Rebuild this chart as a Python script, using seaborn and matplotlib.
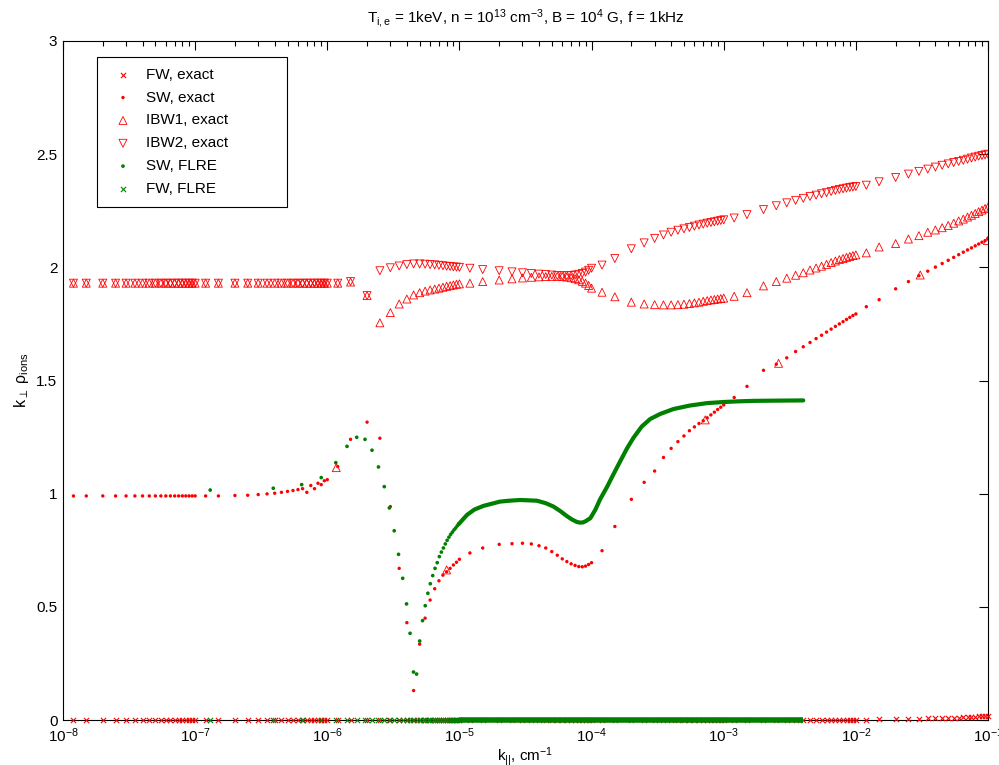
import numpy as np
import matplotlib
matplotlib.use("Agg")
import matplotlib.pyplot as plt
import seaborn as sns
from matplotlib.ticker import LogLocator, FixedLocator, FixedFormatter, NullFormatter, LogFormatterSciNotation

# ---------------- data ----------------
# sampling grid of the "exact" solver: mantissa within each decade
DECADES = [-8, -7, -6, -5, -4, -3, -2]
MANTISSA = [1.2, 1.5, 2.0, 2.5, 3.0, 3.5, 4.0, 4.5, 5.0, 5.5, 6.0, 6.5, 7.0, 7.5, 8.0, 8.5, 9.0, 9.5, 10.0]

# FW, exact  (one row of 19 values per decade)
FW_EXACT = ([0.0] * 19 + [0.0] * 19 + [0.0] * 19 + [0.0] * 19 + [0.0] * 19 + [0.0] * 19 +
            [0.002, 0.003, 0.004, 0.005, 0.006, 0.007, 0.008, 0.009, 0.010, 0.0105,
             0.011, 0.012, 0.013, 0.014, 0.015, 0.0155, 0.016, 0.017, 0.018])

# SW, exact
SW_EXACT = ([0.99] * 19 +
            [0.99, 0.99, 0.992, 0.993, 0.996, 0.999, 1.002, 1.006, 1.010, 1.014,
             1.018, 1.022, 1.006, 1.036, 1.022, 1.046, 1.040, 1.057, 1.062] +
            [1.12, 1.24, 1.316, 1.245, 0.943, 0.67, 0.43, 0.13, 0.335, 0.45,
             0.53, 0.58, 0.615, 0.64, 0.655, 0.67, 0.685, 0.697, 0.71] +
            [0.738, 0.76, 0.776, 0.779, 0.781, 0.778, 0.77, 0.76, 0.744, 0.728,
             0.712, 0.70, 0.69, 0.683, 0.678, 0.677, 0.68, 0.687, 0.695] +
            [0.748, 0.855, 0.975, 1.05, 1.10, 1.16, 1.20, 1.23, 1.255, 1.278,
             1.295, 1.31, 1.322, 1.335, 1.348, 1.36, 1.372, 1.382, 1.392] +
            [1.425, 1.474, 1.545, 1.572, 1.60, 1.628, 1.649, 1.668, 1.685, 1.70,
             1.714, 1.727, 1.739, 1.75, 1.76, 1.77, 1.779, 1.787, 1.794] +
            [1.826, 1.857, 1.905, 1.937, 1.963, 1.983, 2.001, 2.017, 2.031, 2.044,
             2.056, 2.067, 2.077, 2.086, 2.095, 2.103, 2.111, 2.118, 2.125])

# IBW1, exact
IBW1_EXACT = ([1.93] * 19 + [1.93] * 19 +
              [1.93, 1.935, 1.875, 1.755, 1.80, 1.838, 1.86, 1.878, 1.888, 1.895,
               1.90, 1.904, 1.908, 1.912, 1.916, 1.919, 1.922, 1.925, 1.927] +
              [1.93, 1.937, 1.944, 1.949, 1.953, 1.956, 1.958, 1.959, 1.96, 1.96,
               1.959, 1.957, 1.954, 1.95, 1.945, 1.938, 1.93, 1.92, 1.908] +
              [1.89, 1.87, 1.846, 1.838, 1.835, 1.834, 1.834, 1.835, 1.837, 1.84,
               1.843, 1.846, 1.85, 1.853, 1.856, 1.858, 1.86, 1.862, 1.864] +
              [1.872, 1.888, 1.918, 1.937, 1.952, 1.965, 1.976, 1.988, 1.997, 2.005,
               2.013, 2.021, 2.028, 2.034, 2.039, 2.044, 2.048, 2.052, 2.055] +
              [2.064, 2.09, 2.105, 2.125, 2.14, 2.155, 2.165, 2.175, 2.185, 2.195,
               2.205, 2.213, 2.222, 2.23, 2.238, 2.246, 2.253, 2.26, 2.266])

# IBW2, exact
IBW2_EXACT = ([1.93] * 19 + [1.93] * 19 +
              [1.93, 1.937, 1.875, 1.985, 1.998, 2.006, 2.012, 2.015, 2.015, 2.014,
               2.012, 2.011, 2.009, 2.007, 2.005, 2.004, 2.002, 2.001, 2.0] +
              [1.996, 1.99, 1.985, 1.98, 1.976, 1.973, 1.97, 1.968, 1.966, 1.964,
               1.963, 1.963, 1.964, 1.966, 1.969, 1.973, 1.979, 1.987, 1.996] +
              [2.01, 2.039, 2.082, 2.108, 2.128, 2.143, 2.155, 2.164, 2.17, 2.176,
               2.182, 2.187, 2.191, 2.195, 2.198, 2.201, 2.204, 2.207, 2.21] +
              [2.218, 2.233, 2.255, 2.272, 2.285, 2.296, 2.305, 2.313, 2.319, 2.325,
               2.33, 2.335, 2.34, 2.344, 2.347, 2.35, 2.353, 2.355, 2.357] +
              [2.363, 2.378, 2.397, 2.412, 2.424, 2.434, 2.443, 2.451, 2.457, 2.463,
               2.468, 2.473, 2.478, 2.483, 2.487, 2.491, 2.494, 2.497, 2.5])

# isolated IBW1 markers that sit on the SW branch
IBW1_EXTRA_K = [1.17e-6, 8.0e-6, 7.25e-4, 2.6e-3, 3.07e-2, 9.9e-2]
IBW1_EXTRA = [1.115, 0.663, 1.326, 1.576, 1.966, 2.118]

# FLRE solver: sparse samples
FLRE_K = [1.3e-7, 3.9e-7, 6.4e-7, 9.0e-7, 1.16e-6, 1.41e-6, 1.67e-6, 1.93e-6, 2.18e-6,
          2.44e-6, 2.70e-6, 2.95e-6, 3.21e-6, 3.46e-6, 3.72e-6, 3.98e-6, 4.23e-6,
          4.49e-6, 4.74e-6, 5.00e-6, 5.26e-6, 5.51e-6, 5.77e-6, 6.02e-6, 6.28e-6,
          6.54e-6, 6.79e-6, 7.05e-6, 7.30e-6, 7.56e-6, 7.82e-6, 8.07e-6, 8.33e-6,
          8.58e-6, 8.84e-6, 9.10e-6, 9.35e-6, 9.61e-6, 9.86e-6]
SW_FLRE = [1.016, 1.024, 1.040, 1.071, 1.137, 1.209, 1.249, 1.240, 1.192, 1.118,
           1.031, 0.937, 0.836, 0.732, 0.626, 0.513, 0.383, 0.212, 0.203, 0.349,
           0.439, 0.505, 0.560, 0.602, 0.638, 0.670, 0.695, 0.722, 0.742, 0.760,
           0.778, 0.794, 0.808, 0.820, 0.830, 0.840, 0.848, 0.857, 0.865]
FW_FLRE = [0.0] * 39

# FLRE solver: densely sampled part (drawn as a continuous trace)
FLRE_DENSE_K = [9.86e-6, 1.14e-5, 1.3e-5, 1.52e-5, 2.03e-5, 2.4e-5, 2.88e-5, 3.85e-5,
                4.5e-5, 5.15e-5, 5.8e-5, 6.5e-5, 7.1e-5, 7.74e-5, 8.2e-5, 8.6e-5,
                9.0e-5, 9.8e-5, 1.07e-4, 1.16e-4, 1.31e-4, 1.45e-4, 1.65e-4, 1.85e-4,
                2.07e-4, 2.4e-4, 2.78e-4, 3.3e-4, 4.17e-4, 5.5e-4, 7.46e-4, 1.0e-3,
                1.3e-3, 1.68e-3, 2.5e-3, 4.0e-3]
SW_FLRE_DENSE = [0.865, 0.906, 0.93, 0.946, 0.965, 0.969, 0.972, 0.969, 0.958, 0.943,
                 0.923, 0.901, 0.886, 0.875, 0.872, 0.873, 0.878, 0.892, 0.93, 0.975,
                 1.03, 1.081, 1.144, 1.199, 1.246, 1.297, 1.33, 1.352, 1.374, 1.389,
                 1.400, 1.405, 1.408, 1.41, 1.411, 1.412]
FW_FLRE_DENSE_K = [9.86e-6, 4.0e-3]
FW_FLRE_DENSE = [0.0, 0.0]

LABELS = ["FW, exact", "SW, exact", "IBW1, exact", "IBW2, exact", "SW, FLRE", "FW, FLRE"]
Y_TICKS = [0, 0.5, 1, 1.5, 2, 2.5, 3]
Y_TICK_LABELS = ["0", "0.5", "1", "1.5", "2", "2.5", "3"]

# ---------------- style ----------------
sns.set_theme(style="white")
plt.rcParams.update({
    "axes.edgecolor": "black",
    "axes.linewidth": 0.8,
    "text.color": "black",
    "axes.labelcolor": "black",
    "xtick.color": "black",
    "ytick.color": "black",
    "font.size": 11,
    "mathtext.fontset": "custom",
    "mathtext.rm": "Liberation Sans",
    "mathtext.it": "Liberation Sans:italic",
    "mathtext.bf": "Liberation Sans:bold",
    "mathtext.default": "regular",
})
plt.rcParams["font.family"] = ["Liberation Sans", "DejaVu Sans"]

RED = "#ff0000"
GREEN = "#008000"

K_EXACT = np.array([m * 10.0 ** d for d in DECADES for m in MANTISSA])

fig = plt.figure(figsize=(9.99, 7.65), dpi=100)
ax = fig.add_axes([63 / 999, 45 / 765, 925 / 999, 679 / 765])
ax.set_xscale("log")

sns.scatterplot(x=K_EXACT, y=np.array(FW_EXACT), marker="x", s=14, color=RED,
                linewidth=0.8, ax=ax, label=LABELS[0], clip_on=False, zorder=3)
sns.scatterplot(x=K_EXACT, y=np.array(SW_EXACT), marker="o", s=6, color=RED,
                edgecolor="none", linewidth=0, ax=ax, label=LABELS[1], zorder=3)
sns.scatterplot(x=K_EXACT, y=np.array(IBW1_EXACT), marker="^", s=33, facecolor="none",
                edgecolor=RED, linewidth=0.6, ax=ax, label=LABELS[2], zorder=3)
sns.scatterplot(x=K_EXACT, y=np.array(IBW2_EXACT), marker="v", s=33, facecolor="none",
                edgecolor=RED, linewidth=0.6, ax=ax, label=LABELS[3], zorder=3)
sns.scatterplot(x=np.array(IBW1_EXTRA_K), y=np.array(IBW1_EXTRA), marker="^", s=33,
                facecolor="none", edgecolor=RED, linewidth=0.6, ax=ax, zorder=3)
sns.scatterplot(x=np.array(FLRE_K), y=np.array(SW_FLRE), marker="o", s=7, color=GREEN,
                edgecolor="none", linewidth=0, ax=ax, label=LABELS[4], zorder=4)
sns.lineplot(x=FLRE_DENSE_K, y=SW_FLRE_DENSE, color=GREEN, linewidth=3.0, ax=ax,
             zorder=4, sort=False, estimator=None)
sns.scatterplot(x=np.array(FLRE_K), y=np.array(FW_FLRE), marker="x", s=14, color=GREEN,
                linewidth=0.8, ax=ax, label=LABELS[5], clip_on=False, zorder=6)
sns.lineplot(x=FW_FLRE_DENSE_K, y=FW_FLRE_DENSE, color=GREEN, linewidth=4.0, ax=ax,
             sort=False, estimator=None)
band = ax.lines[-1]
band.set_clip_on(False)
band.set_zorder(8)
band.set_solid_capstyle("butt")

ax.set_xlim(1e-8, 1e-1)
ax.set_ylim(0, 3)
ax.xaxis.set_major_locator(LogLocator(base=10, numticks=20))
ax.xaxis.set_minor_locator(LogLocator(base=10, subs=np.arange(2, 10), numticks=100))
ax.xaxis.set_major_formatter(LogFormatterSciNotation())
ax.xaxis.set_minor_formatter(NullFormatter())
ax.yaxis.set_major_locator(FixedLocator(Y_TICKS))
ax.yaxis.set_major_formatter(FixedFormatter(Y_TICK_LABELS))
ax.tick_params(axis="both", which="both", direction="in", top=True, right=True,
               labelsize=11, width=0.8)
ax.tick_params(axis="both", which="major", length=6.5)
ax.tick_params(axis="both", which="minor", length=3.5)
ax.tick_params(axis="x", which="major", pad=4.5)
ax.tick_params(axis="y", which="major", pad=4)

ax.set_title(r"T$_{\rm i,e}$ = 1keV, n = 10$^{13}$ cm$^{-3}$, B = 10$^{4}$ G, f = 1kHz",
             fontsize=11, pad=13)
ax.set_xlabel(r"k$_{||}$, cm$^{-1}$", fontsize=11, labelpad=0)
ax.set_ylabel(r"k$_{\perp}$ $\rho_{ions}$", fontsize=11.5, labelpad=4)

leg = ax.legend(loc="upper left", bbox_to_anchor=(34 / 925, 0.5, 190 / 925, 0.5 - 16 / 679),
                mode="expand", borderaxespad=0, frameon=True, fancybox=False,
                edgecolor="black", framealpha=1, fontsize=11, borderpad=0.7,
                labelspacing=0.58, handlelength=2.0, handletextpad=0.5, scatterpoints=1)
leg.get_frame().set_linewidth(0.8)
leg.set_zorder(10)

fig.savefig("out.png", dpi=100)
